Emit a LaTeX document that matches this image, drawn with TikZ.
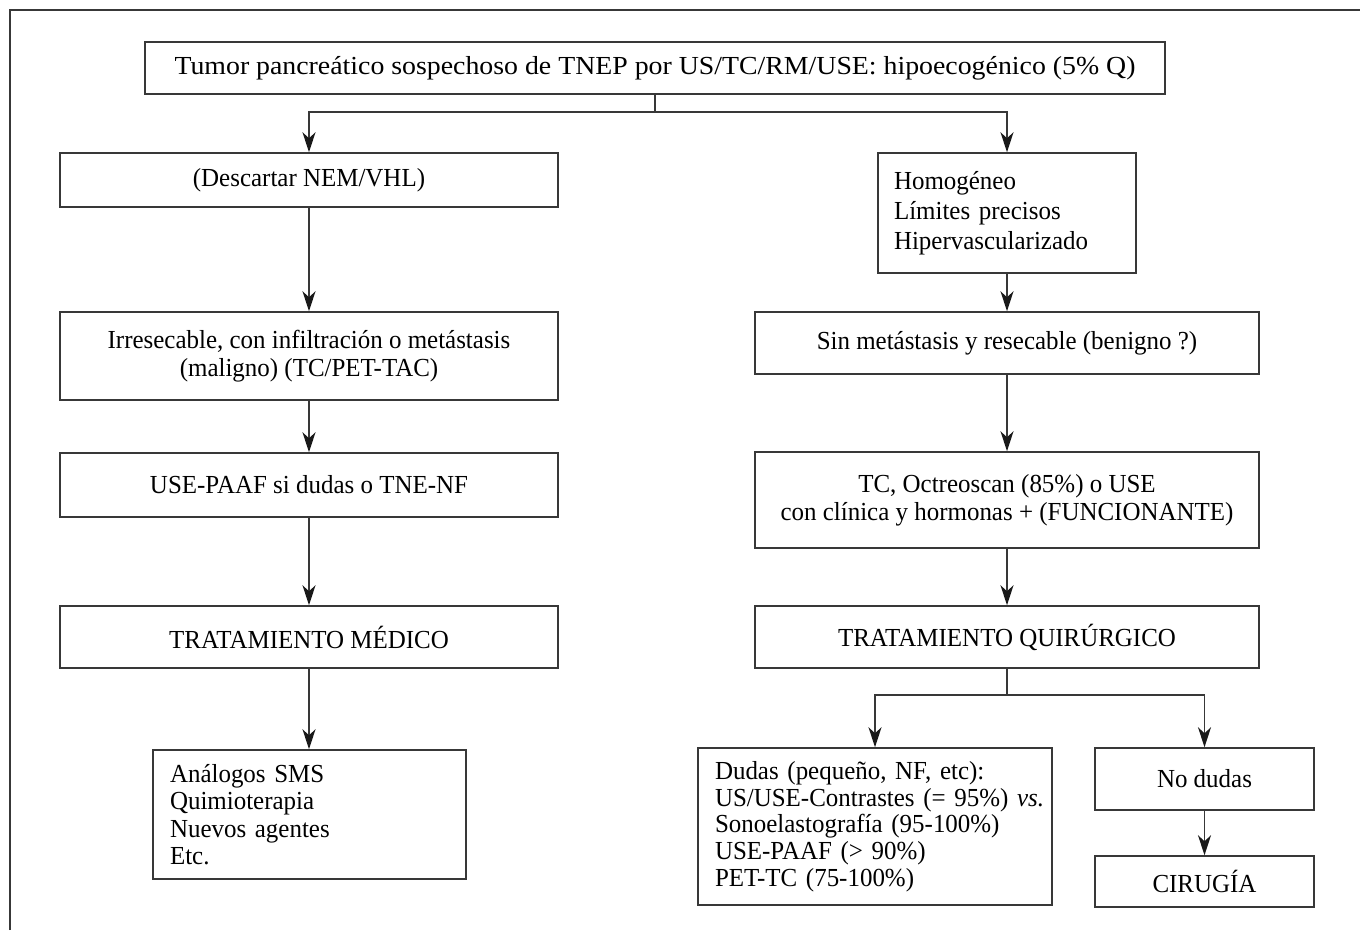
\documentclass[tikz,border=0pt]{standalone}
\usepackage{fontspec}
\setmainfont{Liberation Serif}[FakeStretch=0.96]
\newfontfamily\topfont{Liberation Serif}[FakeStretch=1.07]
\usetikzlibrary{arrows.meta}
\begin{document}
\begin{tikzpicture}[x=1pt,y=-1pt,
  line width=1.5pt,
  every node/.style={font=\fontsize{26}{28}\selectfont, text=black},
  box/.style={draw=black!78, line width=1.5pt, inner ysep=0pt, inner xsep=4pt, align=center},
  lbox/.style={draw=black!78, line width=1.5pt, inner ysep=0pt, align=left},
  conn/.style={draw=black!78, line width=1.5pt},
  arr/.style={conn, -{Stealth[length=20pt,width=13pt,inset=6pt,color=black!90]}}]
\useasboundingbox (0,0) rectangle (1360,930);
% frame
\draw[conn] (10,930) -- (10,10) -- (1360,10);
% nodes
\node[box, minimum width=1020pt, minimum height=52pt, font=\topfont\fontsize{26}{28}\selectfont] (top) at (655,68)
  {Tumor pancreático sospechoso de TNEP por US/TC/RM/USE: hipoecogénico (5\% Q)};
\node[box, minimum width=498pt, minimum height=54pt] (desc) at (309,180) {(Descartar NEM/VHL)};
\node[box, minimum width=498pt, minimum height=88pt] (irr) at (309,356)
  {Irresecable, con infiltración o metástasis\\(maligno) (TC/PET-TAC)};
\node[box, minimum width=498pt, minimum height=64pt] (usep) at (309,485) {USE-PAAF si dudas o TNE-NF};
\node[box, minimum width=498pt, minimum height=62pt] (tmed) at (309,637) {TRATAMIENTO MÉDICO};
\node[lbox, minimum width=313pt, minimum height=129pt, inner xsep=17pt, text width=279pt,
  font=\fontsize{26}{27.3}\selectfont] (anal) at (309.5,814.5)
  {\mbox{Análogos SMS}\\\mbox{Quimioterapia}\\\mbox{Nuevos agentes}\\\mbox{Etc.}};
\node[lbox, minimum width=258pt, minimum height=120pt, inner xsep=16pt, text width=226pt,
  font=\fontsize{26}{30}\selectfont] (homo) at (1007,213)
  {\mbox{Homogéneo}\\\mbox{Límites precisos}\\\mbox{Hipervascularizado}};
\node[box, minimum width=504pt, minimum height=62pt] (sinm) at (1007,343) {Sin metástasis y resecable (benigno ?)};
\node[box, minimum width=504pt, minimum height=96pt] (tc) at (1007,500)
  {TC, Octreoscan (85\%) o USE\\con clínica y hormonas + (FUNCIONANTE)};
\node[box, minimum width=504pt, minimum height=62pt] (tq) at (1007,637) {TRATAMIENTO QUIRÚRGICO};
\node[lbox, minimum width=354pt, minimum height=157pt, inner xsep=17pt, text width=320pt,
  font=\fontsize{26}{26.75}\selectfont] (dud) at (875,826.5)
  {\mbox{Dudas (pequeño, NF, etc):}\\\mbox{US/USE-Contrastes (= 95\%) \textit{vs.}}\\\mbox{Sonoelastografía (95-100\%)}\\\mbox{USE-PAAF (> 90\%)}\\\mbox{PET-TC (75-100\%)}};
\node[box, minimum width=219pt, minimum height=62pt] (nod) at (1204.5,779) {No dudas};
\node[box, minimum width=219pt, minimum height=51pt] (cir) at (1204.5,881.5) {CIRUGÍA};
% connectors
\draw[conn] (top.south) -- ++(0,17) coordinate (j1);
\draw[arr] (j1) -| (desc.north);
\draw[arr] (j1) -| (homo.north);
\draw[arr] (desc) -- (irr);
\draw[arr] (irr) -- (usep);
\draw[arr] (usep) -- (tmed);
\draw[arr] (tmed.south) -- (tmed.south |- anal.north);
\draw[arr] (homo) -- (homo |- sinm.north);
\draw[arr] (sinm) -- (tc);
\draw[arr] (tc) -- (tq);
\draw[conn] (tq.south) -- ++(0,26) coordinate (j2);
\draw[arr] (j2) -| (dud.north);
\draw[arr] (j2) -| (nod.north);
\draw[arr] (nod) -- (cir);
\end{tikzpicture}
\end{document}
